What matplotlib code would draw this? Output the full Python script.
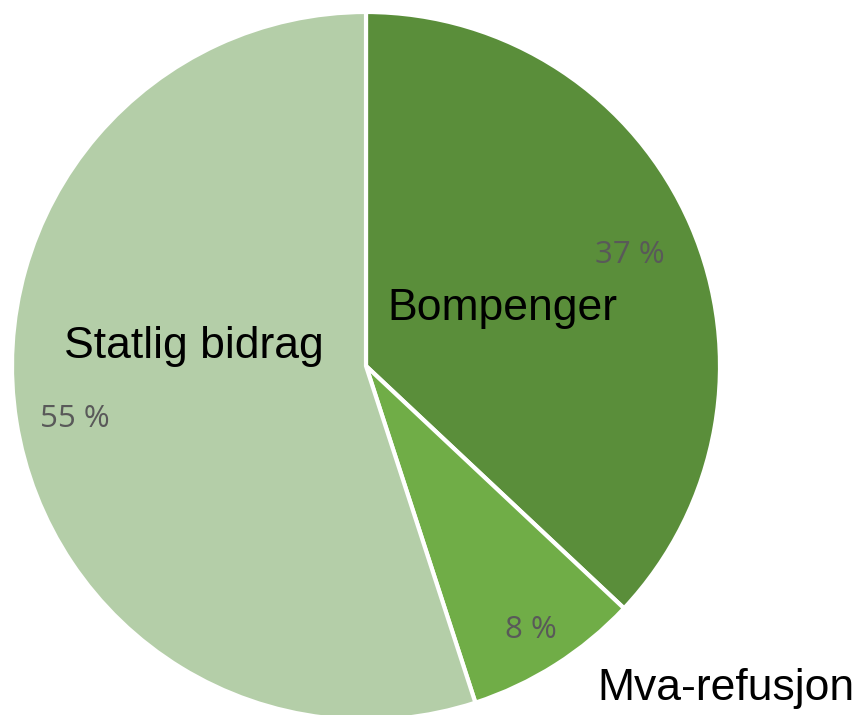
import matplotlib
matplotlib.use('Agg')
import matplotlib.pyplot as plt

# shares of the financing, clockwise from 12 o'clock
categories = ['Bompenger', 'Mva-refusjon', 'Statlig bidrag']
shares = [37, 8, 55]
colors = ['#5A8E3A', '#70AD47', '#B4CEA8']

# label anchor points in pixels of the original (center x, baseline y)
name_pos = [(502, 320), (726, 700), (194, 358)]
pct_pos = [(630, 263), (531, 638), (75, 427)]

W, H = 863, 715
CX, CY, R = 366, 366, 354


def to_data(px, py):
    return (px - CX) / R, (CY - py) / R


fig = plt.figure(figsize=(W / 100, H / 100), dpi=100)
ax = fig.add_axes([(CX - R) / W, (H - CY - R) / H, 2 * R / W, 2 * R / H])
ax.pie(shares, colors=colors, startangle=90, counterclock=False, radius=1,
       wedgeprops=dict(edgecolor='white', linewidth=3))
ax.set_xlim(-1, 1)
ax.set_ylim(-1, 1)
ax.set_aspect('auto')
ax.axis('off')

for name, share, npos, ppos in zip(categories, shares, name_pos, pct_pos):
    x, y = to_data(*npos)
    ax.text(x, y, name, ha='center', va='baseline', fontsize=32,
            family='Liberation Sans', color='black', clip_on=False)
    x, y = to_data(*ppos)
    ax.text(x, y, f'{share} %', ha='center', va='baseline', fontsize=22.5,
            family='Open Sans', color='#595959', clip_on=False)

fig.savefig('out.png', dpi=100)
